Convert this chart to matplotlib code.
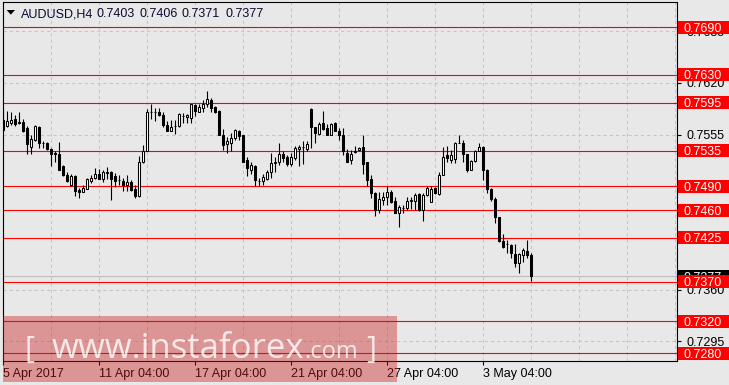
import numpy as np
import matplotlib
matplotlib.use('Agg')
import matplotlib.pyplot as plt
from matplotlib.patches import Rectangle, Polygon
from matplotlib import transforms

plt.rcParams['font.family'] = ['Liberation Sans', 'DejaVu Sans']

##################################################
# data (AUDUSD H4)

opens = [0.7574, 0.7566, 0.7570, 0.7575, 0.7571, 0.7571, 0.7563, 0.7540, 0.7548, 0.7565,
         0.7545, 0.7545, 0.7537, 0.7532, 0.7531, 0.7515, 0.7504, 0.7492, 0.7503, 0.7485,
         0.7483, 0.7487, 0.7497, 0.7501, 0.7506, 0.7499, 0.7508, 0.7508, 0.7503, 0.7498,
         0.7497, 0.7492, 0.7496, 0.7487, 0.7478, 0.7521, 0.7535, 0.7584, 0.7584, 0.7584,
         0.7580, 0.7567, 0.7560, 0.7566, 0.7566, 0.7579, 0.7577, 0.7576, 0.7592, 0.7584,
         0.7589, 0.7593, 0.7599, 0.7590, 0.7585, 0.7555, 0.7543, 0.7545, 0.7551, 0.7560,
         0.7554, 0.7523, 0.7511, 0.7516, 0.7497, 0.7497, 0.7499, 0.7508, 0.7519, 0.7520,
         0.7531, 0.7527, 0.7518, 0.7526, 0.7537, 0.7540, 0.7537, 0.7587, 0.7564, 0.7556,
         0.7569, 0.7563, 0.7555, 0.7569, 0.7560, 0.7555, 0.7532, 0.7523, 0.7533, 0.7536,
         0.7539, 0.7520, 0.7499, 0.7482, 0.7460, 0.7473, 0.7476, 0.7483, 0.7471, 0.7457,
         0.7463, 0.7463, 0.7472, 0.7471, 0.7480, 0.7460, 0.7479, 0.7470, 0.7488, 0.7480,
         0.7504, 0.7529, 0.7523, 0.7524, 0.7545, 0.7544, 0.7531, 0.7511, 0.7522, 0.7534,
         0.7540, 0.7511, 0.7487, 0.7474, 0.7451, 0.7421, 0.7417, 0.7416, 0.7405, 0.7393,
         0.7403, 0.7409, 0.7403]
highs = [0.7586, 0.7585, 0.7584, 0.7580, 0.7584, 0.7575, 0.7566, 0.7555, 0.7567, 0.7566,
         0.7547, 0.7546, 0.7538, 0.7534, 0.7546, 0.7517, 0.7508, 0.7506, 0.7504, 0.7488,
         0.7492, 0.7501, 0.7504, 0.7513, 0.7512, 0.7511, 0.7514, 0.7509, 0.7507, 0.7504,
         0.7501, 0.7504, 0.7498, 0.7492, 0.7528, 0.7542, 0.7587, 0.7594, 0.7588, 0.7589,
         0.7583, 0.7572, 0.7573, 0.7573, 0.7582, 0.7582, 0.7581, 0.7594, 0.7593, 0.7593,
         0.7599, 0.7610, 0.7601, 0.7591, 0.7586, 0.7562, 0.7552, 0.7557, 0.7562, 0.7561,
         0.7555, 0.7527, 0.7520, 0.7517, 0.7501, 0.7506, 0.7511, 0.7532, 0.7527, 0.7545,
         0.7534, 0.7529, 0.7532, 0.7541, 0.7542, 0.7547, 0.7547, 0.7588, 0.7565, 0.7571,
         0.7585, 0.7568, 0.7569, 0.7571, 0.7563, 0.7563, 0.7537, 0.7536, 0.7541, 0.7539,
         0.7555, 0.7521, 0.7504, 0.7483, 0.7483, 0.7483, 0.7491, 0.7485, 0.7476, 0.7467,
         0.7467, 0.7477, 0.7477, 0.7481, 0.7481, 0.7481, 0.7490, 0.7490, 0.7489, 0.7508,
         0.7539, 0.7541, 0.7536, 0.7546, 0.7555, 0.7548, 0.7531, 0.7523, 0.7536, 0.7545,
         0.7541, 0.7512, 0.7488, 0.7476, 0.7452, 0.7430, 0.7422, 0.7417, 0.7417, 0.7406,
         0.7413, 0.7423, 0.7406]
lows = [0.7559, 0.7564, 0.7567, 0.7566, 0.7568, 0.7558, 0.7531, 0.7531, 0.7547, 0.7538,
        0.7538, 0.7536, 0.7516, 0.7521, 0.7511, 0.7503, 0.7496, 0.7491, 0.7478, 0.7475,
        0.7483, 0.7486, 0.7494, 0.7499, 0.7499, 0.7496, 0.7499, 0.7473, 0.7489, 0.7492,
        0.7484, 0.7484, 0.7484, 0.7475, 0.7477, 0.7519, 0.7534, 0.7575, 0.7572, 0.7579,
        0.7564, 0.7559, 0.7559, 0.7556, 0.7565, 0.7569, 0.7570, 0.7570, 0.7578, 0.7584,
        0.7584, 0.7590, 0.7583, 0.7582, 0.7554, 0.7536, 0.7532, 0.7534, 0.7548, 0.7548,
        0.7521, 0.7503, 0.7505, 0.7491, 0.7491, 0.7492, 0.7498, 0.7501, 0.7508, 0.7517,
        0.7520, 0.7515, 0.7515, 0.7523, 0.7515, 0.7518, 0.7534, 0.7538, 0.7545, 0.7554,
        0.7561, 0.7555, 0.7555, 0.7559, 0.7548, 0.7529, 0.7520, 0.7518, 0.7532, 0.7534,
        0.7506, 0.7490, 0.7475, 0.7453, 0.7457, 0.7466, 0.7467, 0.7469, 0.7457, 0.7439,
        0.7457, 0.7460, 0.7462, 0.7460, 0.7459, 0.7446, 0.7478, 0.7470, 0.7480, 0.7479,
        0.7504, 0.7521, 0.7519, 0.7519, 0.7544, 0.7520, 0.7508, 0.7511, 0.7520, 0.7534,
        0.7498, 0.7481, 0.7471, 0.7444, 0.7420, 0.7413, 0.7406, 0.7400, 0.7388, 0.7381,
        0.7395, 0.7400, 0.7371]
closes = [0.7561, 0.7572, 0.7574, 0.7568, 0.7570, 0.7559, 0.7543, 0.7550, 0.7566, 0.7545,
          0.7544, 0.7537, 0.7531, 0.7530, 0.7511, 0.7504, 0.7497, 0.7503, 0.7484, 0.7483,
          0.7488, 0.7499, 0.7501, 0.7505, 0.7499, 0.7508, 0.7507, 0.7499, 0.7497, 0.7498,
          0.7492, 0.7496, 0.7485, 0.7478, 0.7521, 0.7535, 0.7584, 0.7583, 0.7584, 0.7580,
          0.7567, 0.7560, 0.7565, 0.7566, 0.7581, 0.7578, 0.7580, 0.7593, 0.7585, 0.7590,
          0.7594, 0.7600, 0.7589, 0.7583, 0.7555, 0.7542, 0.7547, 0.7551, 0.7561, 0.7553,
          0.7521, 0.7513, 0.7517, 0.7498, 0.7497, 0.7502, 0.7508, 0.7519, 0.7521, 0.7531,
          0.7526, 0.7518, 0.7527, 0.7538, 0.7540, 0.7540, 0.7543, 0.7564, 0.7557, 0.7568,
          0.7562, 0.7555, 0.7568, 0.7560, 0.7555, 0.7534, 0.7521, 0.7531, 0.7535, 0.7538,
          0.7518, 0.7498, 0.7481, 0.7460, 0.7474, 0.7476, 0.7483, 0.7470, 0.7457, 0.7464,
          0.7463, 0.7472, 0.7473, 0.7479, 0.7460, 0.7479, 0.7488, 0.7487, 0.7481, 0.7504,
          0.7527, 0.7525, 0.7529, 0.7544, 0.7545, 0.7531, 0.7511, 0.7522, 0.7534, 0.7540,
          0.7511, 0.7487, 0.7474, 0.7451, 0.7421, 0.7414, 0.7417, 0.7406, 0.7394, 0.7405,
          0.7410, 0.7404, 0.7377]

date_labels = ['5 Apr 2017', '11 Apr 04:00', '17 Apr 04:00', '21 Apr 04:00',
               '27 Apr 04:00', '3 May 04:00']
date_bars = [0, 24, 48, 72, 96, 120]

price_ticks = [0.7295, 0.7360, 0.7425, 0.7490, 0.7555, 0.7620, 0.7685]
levels = [0.7690, 0.7630, 0.7595, 0.7535, 0.7490, 0.7460, 0.7425, 0.7370, 0.7320, 0.7280]
last_price = 0.7377
header = ['AUDUSD,H4', '0.7403', '0.7406', '0.7371', '0.7377']

##################################################
# layout (pixels)

W, H = 729, 385
bg = '#e8e8e8'
ax_l, ax_r, ax_t, ax_b = 2.7, 676.5, 2.3, 361.0
ylo, yhi = 0.72703, 0.77214
xlo, xhi = -0.15, 168.3

def fx(x):
    return x / W

def fy(y):
    return 1 - y / H

##################################################
# main program

fig = plt.figure(figsize=(W / 100, H / 100), dpi=100, facecolor=bg)
ax = fig.add_axes([fx(ax_l), fy(ax_b), (ax_r - ax_l) / W, (ax_b - ax_t) / H])
ax.set_facecolor(bg)
ax.set_xlim(xlo, xhi)
ax.set_ylim(ylo, yhi)

# candles
o = np.array(opens)
c = np.array(closes)
x = np.arange(len(c))
up = c >= o
ax.vlines(x, lows, highs, color='black', lw=0.8, zorder=3)
ax.bar(x[up], (c - o)[up], bottom=o[up], width=0.5, facecolor='white',
       edgecolor='black', lw=0.75, zorder=4)
ax.bar(x[~up], (o - c)[~up], bottom=c[~up], width=0.5, facecolor='black',
       edgecolor='black', lw=0.75, zorder=4)

# level lines
ax.axhline(last_price, color='#c0c0c0', lw=0.9, zorder=1.5)
for lvl in levels:
    ax.axhline(lvl, color='#ff0000', lw=0.8, zorder=2)

# grid and ticks
ax.set_axisbelow(True)
ax.set_xticks(date_bars)
ax.set_xticklabels(date_labels, ha='left')
ax.set_xticks(np.arange(12, 169, 12), minor=True)
ax.set_yticks(price_ticks)
ax.set_yticklabels(['%.4f' % v for v in price_ticks])
ax.yaxis.tick_right()
ax.grid(True, which='both', color='#c4c4c4', ls=(0, (3, 3)), lw=0.75)
ax.tick_params(axis='x', which='minor', length=0)
ax.tick_params(axis='x', which='major', length=3, pad=2, labelsize=9, colors='black')
ax.tick_params(axis='y', length=3, pad=4, labelsize=9, colors='black')
for sp in ax.spines.values():
    sp.set_color('black')
    sp.set_linewidth(0.8)

# price label boxes on the right
trans = transforms.blended_transform_factory(fig.transFigure, ax.transData)
px_per_price = (ax_b - ax_t) / (yhi - ylo)
box_h = 13 / px_per_price

def price_box(lvl, color, z):
    ax.add_artist(Rectangle((fx(678), lvl - box_h / 2), fx(729) - fx(678), box_h,
                            transform=trans, facecolor=color, edgecolor='none',
                            clip_on=False, zorder=z))
    ax.text(fx(684), lvl, '%.4f' % lvl, transform=trans, color='white', fontsize=9,
            ha='left', va='center_baseline', clip_on=False, zorder=z + 0.5)

price_box(last_price, 'black', 10)
for lvl in levels:
    price_box(lvl, '#ff0000', 11)

# header
fig.add_artist(Polygon([(fx(6.7), fy(10)), (fx(15), fy(10)), (fx(10.8), fy(14.7))],
                       closed=True, transform=fig.transFigure, facecolor='black',
                       edgecolor='none', zorder=12))
for txt, xp in zip(header, [21, 96, 139, 182, 225]):
    fig.text(fx(xp), fy(17.3), txt, fontsize=9, color='#0a0a30', va='baseline',
             ha='left', zorder=12)

# watermark
fig.add_artist(Rectangle((fx(3), fy(382)), (397 - 3) / W, (382 - 316) / H,
                         transform=fig.transFigure, facecolor=(0.8, 0.1, 0.1),
                         alpha=0.4, edgecolor='none', zorder=20))
wm = dict(family=['Open Sans', 'DejaVu Sans'], color='white', alpha=0.8,
          va='baseline', ha='left', zorder=21)
fig.text(fx(24), fy(358), '[', fontsize=22, **wm)
fig.text(fx(52), fy(358), 'www.instaforex', fontsize=25, **wm)
fig.text(fx(304), fy(358), '.com', fontsize=17, **wm)
fig.text(fx(366), fy(358), ']', fontsize=22, **wm)

plt.savefig('out.png', dpi=100, facecolor=bg)
